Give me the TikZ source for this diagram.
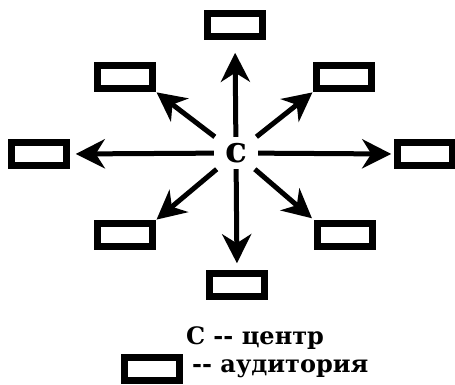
\documentclass[tikz,border=0pt]{standalone}
\usepackage{fontspec}
\setmainfont{DejaVu Serif}
\usetikzlibrary{arrows.meta, positioning}

\begin{document}
\begin{tikzpicture}[x=1pt, y=-1pt,
  aud/.style={draw, line width=6.5pt, minimum width=55pt, minimum height=23pt, inner sep=0pt},
  strela/.style={line width=5pt, -{Stealth[length=29pt,width=29pt,inset=9pt]}},
  podpis/.style={font=\bfseries\fontsize{24}{24}\selectfont, inner sep=0pt}]
\useasboundingbox (0,0) rectangle (455,384);
% Центр
\node[minimum width=44pt, minimum height=32pt, inner sep=0pt,
      font=\bfseries\fontsize{36}{36}\selectfont] (C) at (236,153) {с};
% Аудитории вокруг центра
\node[aud] (top) at (235,25) {};
\node[aud] (ul)  at (125,77) {};
\node[aud] (ur)  at (344,77) {};
\node[aud] (lt)  at (39,154) {};
\node[aud] (rt)  at (425,154) {};
\node[aud] (ll)  at (125,235) {};
\node[aud] (lr)  at (345,235) {};
\node[aud] (bot) at (237,285) {};

% Стрелки от центра
\foreach \b/\a/\s in {top/south/13, ul/south east/1, ur/south west/1, lt/east/6,
                      rt/west/3, ll/north east/1, lr/north west/3, bot/north/7}
  \draw[strela, shorten >=\s pt] (C) -- (\b.\a);

% Легенда
\node[podpis] (legc) at (255,338) {С -{}- центр};
\node[aud] (legbox) at (152,369) {};
\node[podpis, anchor=west] (legaud) at (192,369) {-{}- аудитория};
\end{tikzpicture}
\end{document}
